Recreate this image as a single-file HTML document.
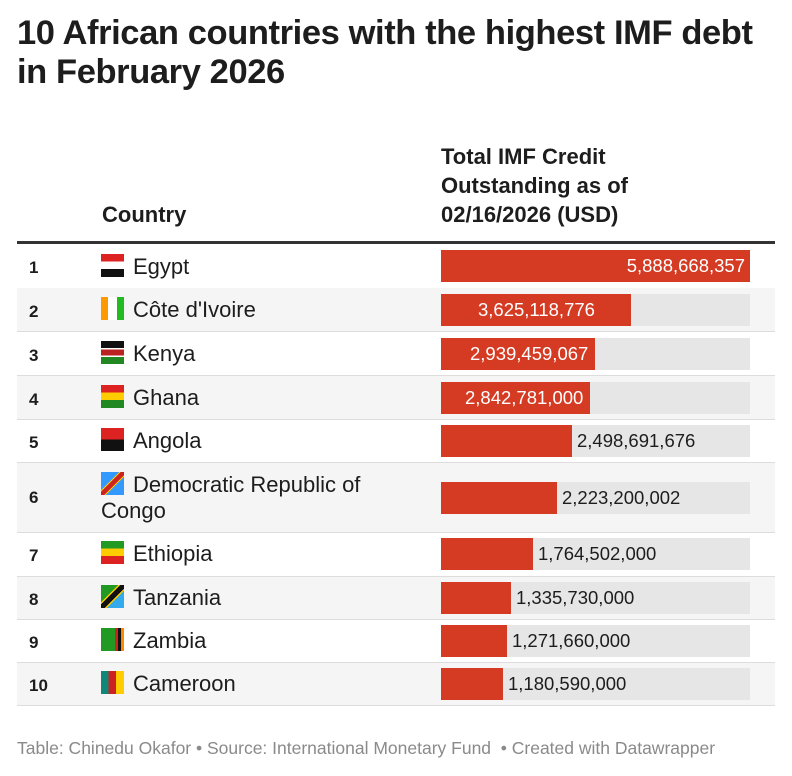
<!DOCTYPE html>
<html><head><meta charset="utf-8"><style>
body{margin:0;width:792px;height:776px;background:#fff;font-family:"Liberation Sans",sans-serif;color:#1d1d1d;position:relative;overflow:hidden}
.t{position:absolute;left:17px;top:14px;font-size:34.5px;font-weight:bold;line-height:39px;letter-spacing:-0.4px}
.h{position:absolute;font-weight:bold;font-size:22px;line-height:29px}
.line{position:absolute;left:17px;width:758px;top:241px;height:3px;background:#333}
.row{position:absolute;left:17px;width:758px;border-bottom:1px solid #ddd}
.row.g{background:#f5f5f5}
.n{position:absolute;left:12px;font-weight:bold;font-size:17px}
.c{position:absolute;left:84px;font-size:22px;line-height:26px}
.fl{display:inline-block;width:23px;height:23px;vertical-align:-3px;margin-right:9px;overflow:hidden}
.bg{position:absolute;left:424px;width:309px;height:32px;background:#e6e6e6}
.b{position:absolute;left:0;top:0;height:32px;background:#d53b23}
.v{position:absolute;top:5px;font-size:18.5px;white-space:nowrap}
.in{color:#fff}
.f{position:absolute;left:17px;top:738px;font-size:17.5px;color:#8a8a8a}
</style></head><body>
<div class="t">10 African countries with the highest IMF debt<br>in February 2026</div>
<div class="h" style="left:102px;top:200px">Country</div>
<div class="h" style="left:441px;top:142px">Total IMF Credit<br>Outstanding as of<br>02/16/2026 (USD)</div>
<div class="line"></div>

<div class="row" style="top:244px;height:44px"><span class="n" style="top:14px">1</span><span class="c" style="top:10px"><span class="fl" style="background:linear-gradient(#d22 33%,#fff 33% 66%,#111 66%)"></span>Egypt</span><div class="bg" style="top:6px"><div class="b" style="width:309px"></div><span class="v in" style="right:5px">5,888,668,357</span></div></div>
<div class="row g" style="top:288px;height:43px"><span class="n" style="top:14px">2</span><span class="c" style="top:9px"><span class="fl" style="background:linear-gradient(90deg,#f90 30%,#fff 30% 70%,#2b2 70%)"></span>Côte d'Ivoire</span><div class="bg" style="top:6px"><div class="b" style="width:190px"></div><span class="v in" style="left:37px">3,625,118,776</span></div></div>
<div class="row" style="top:332px;height:43px"><span class="n" style="top:14px">3</span><span class="c" style="top:9px"><span class="fl" style="background:linear-gradient(#111 30%,#fff 30% 36%,#b22 36% 64%,#fff 64% 70%,#282 70%)"></span>Kenya</span><div class="bg" style="top:6px"><div class="b" style="width:154px"></div><span class="v in" style="left:29px">2,939,459,067</span></div></div>
<div class="row g" style="top:376px;height:43px"><span class="n" style="top:14px">4</span><span class="c" style="top:9px"><span class="fl" style="background:linear-gradient(#d22 33%,#fc0 33% 66%,#282 66%)"></span>Ghana</span><div class="bg" style="top:6px"><div class="b" style="width:149px"></div><span class="v in" style="left:24px">2,842,781,000</span></div></div>
<div class="row" style="top:420px;height:42px"><span class="n" style="top:13px">5</span><span class="c" style="top:8px"><span class="fl" style="background:linear-gradient(#d22 50%,#111 50%)"></span>Angola</span><div class="bg" style="top:5px"><div class="b" style="width:131px"></div><span class="v" style="left:136px">2,498,691,676</span></div></div>
<div class="row g" style="top:463px;height:69px"><span class="n" style="top:25px">6</span><span class="c" style="top:9px"><span class="fl" style="background:linear-gradient(135deg,#39f 40%,#fc0 40% 43%,#c22 43% 57%,#fc0 57% 60%,#39f 60%)"></span>Democratic Republic of<br>Congo</span><div class="bg" style="top:19px"><div class="b" style="width:116px"></div><span class="v" style="left:121px">2,223,200,002</span></div></div>
<div class="row" style="top:533px;height:43px"><span class="n" style="top:13px">7</span><span class="c" style="top:8px"><span class="fl" style="background:linear-gradient(#292 33%,#fc0 33% 66%,#d22 66%)"></span>Ethiopia</span><div class="bg" style="top:5px"><div class="b" style="width:92px"></div><span class="v" style="left:97px">1,764,502,000</span></div></div>
<div class="row g" style="top:577px;height:42px"><span class="n" style="top:13px">8</span><span class="c" style="top:8px"><span class="fl" style="background:linear-gradient(135deg,#292 38%,#fc0 38% 42%,#111 42% 58%,#fc0 58% 62%,#3ae 62%)"></span>Tanzania</span><div class="bg" style="top:5px"><div class="b" style="width:70px"></div><span class="v" style="left:75px">1,335,730,000</span></div></div>
<div class="row" style="top:620px;height:42px"><span class="n" style="top:13px">9</span><span class="c" style="top:8px"><span class="fl" style="background:linear-gradient(90deg,#292 60%,#c22 60% 73%,#111 73% 86%,#f80 86%)"></span>Zambia</span><div class="bg" style="top:5px"><div class="b" style="width:66px"></div><span class="v" style="left:71px">1,271,660,000</span></div></div>
<div class="row g" style="top:663px;height:42px"><span class="n" style="top:13px">10</span><span class="c" style="top:8px"><span class="fl" style="background:linear-gradient(90deg,#187 33%,#c22 33% 66%,#fc0 66%)"></span>Cameroon</span><div class="bg" style="top:5px"><div class="b" style="width:62px"></div><span class="v" style="left:67px">1,180,590,000</span></div></div>

<div class="f">Table: Chinedu Okafor • Source: International Monetary Fund &nbsp;• Created with Datawrapper</div>
</body></html>
